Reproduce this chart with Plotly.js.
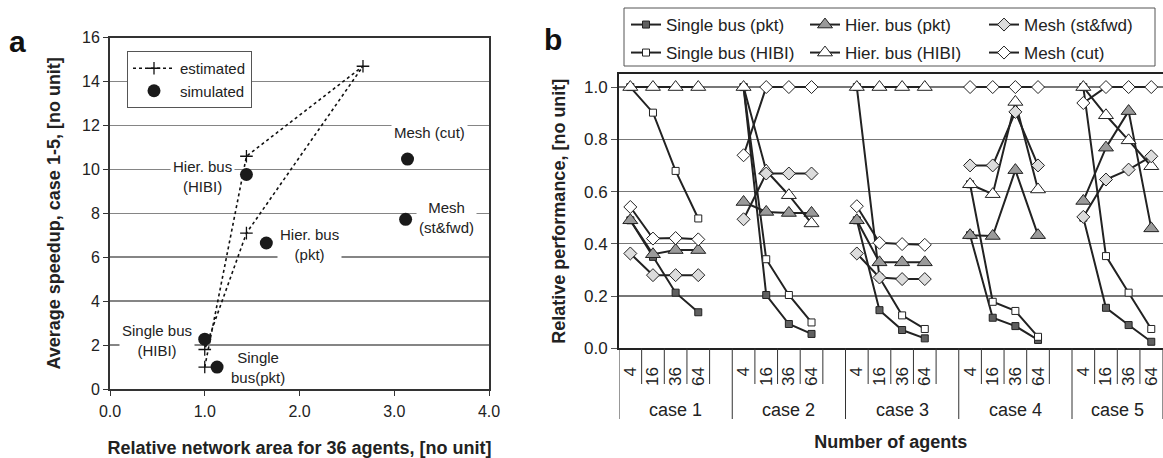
<!DOCTYPE html>
<html><head><meta charset="utf-8">
<script src="https://cdn.plot.ly/plotly-3.0.1.min.js"></script>
<style>html,body{margin:0;padding:0;background:#fff}#chart{width:1163px;height:458px}</style>
</head><body><div id="chart"></div>
<script>
// ---------- Panel a data ----------
const estX = [1.0, 1.44, 2.67, 1.44, 1.0];
const estY = [1.0, 10.6, 14.7, 7.1, 1.8];
const simLabels = ['Single<br>bus(pkt)', 'Single bus<br>(HIBI)', 'Hier. bus<br>(pkt)', 'Hier. bus<br>(HIBI)', 'Mesh (cut)', 'Mesh<br>(st&fwd)'];
const simX = [1.13, 1.0, 1.65, 1.44, 3.14, 3.12];
const simY = [1.0, 2.27, 6.65, 9.77, 10.47, 7.73];
const aXTickVals = [0, 1, 2, 3, 4];
const aXTickText = ['0.0', '1.0', '2.0', '3.0', '4.0'];

// ---------- Panel b data ----------
const cases = ['case 1', 'case 2', 'case 3', 'case 4', 'case 5'];
const agents = ['4', '16', '36', '64'];
const singlePkt  = [0.49,0.35,0.213,0.138, 1.0,0.204,0.093,0.055, 0.49,0.146,0.070,0.038, 0.433,0.117,0.085,0.032, 0.50,0.155,0.089,0.025];
const singleHibi = [1.0,0.902,0.679,0.497, 1.0,0.341,0.204,0.099, 1.0,0.271,0.126,0.074, 0.628,0.178,0.143,0.044, 1.0,0.353,0.213,0.074];
const hierPkt    = [0.49,0.36,0.376,0.376, 0.56,0.522,0.518,0.518, 0.49,0.329,0.329,0.329, 0.433,0.43,0.682,0.433, 0.564,0.768,0.908,0.459];
const hierHibi   = [1,1,1,1, 1,0.68,0.586,0.478, 1,1,1,1, 0.628,0.59,0.943,0.608, 1,0.892,0.796,0.697];
const meshSf     = [0.363,0.28,0.28,0.28, 0.494,0.669,0.669,0.669, 0.363,0.271,0.265,0.265, 0.70,0.70,0.905,0.70, 0.503,0.646,0.684,0.735];
const meshCut    = [0.541,0.42,0.422,0.417, 0.739,1,1,1, 0.544,0.404,0.399,0.396, 1,1,1,1, 0.939,1,1,1];
const bYTickVals = [0, 0.2, 0.4, 0.6, 0.8, 1.0];
const bYTickText = ['0.0', '0.2', '0.4', '0.6', '0.8', '1.0'];

const SLOT = agents.length + 1; // 4 agents + spacer per case

function seriesXY(vals) {
  const x = [], y = [];
  cases.forEach((c, ci) => {
    agents.forEach((a, ai) => { x.push(ci * SLOT + ai); y.push(vals[ci * agents.length + ai]); });
    if (ci < cases.length - 1) { x.push(ci * SLOT + agents.length); y.push(null); }
  });
  return {x, y};
}

const FONT = 'Liberation Sans, Arial, sans-serif';
const LINEC = '#222';

const bSeries = [
  {name: 'Single bus (pkt)',  vals: singlePkt,  symbol: 'square',      size: 7,  fill: '#606060', legend: 'legend2'},
  {name: 'Single bus (HIBI)', vals: singleHibi, symbol: 'square',      size: 7,  fill: '#ffffff', legend: 'legend3'},
  {name: 'Hier. bus (pkt)',   vals: hierPkt,    symbol: 'triangle-up', size: 13, fill: '#9a9a9a', legend: 'legend2'},
  {name: 'Hier. bus (HIBI)',  vals: hierHibi,   symbol: 'triangle-up', size: 13, fill: '#ffffff', legend: 'legend3'},
  {name: 'Mesh (st&fwd)',     vals: meshSf,     symbol: 'diamond',     size: 10, fill: '#dcdcdc', legend: 'legend2'},
  {name: 'Mesh (cut)',        vals: meshCut,    symbol: 'diamond',     size: 10, fill: '#ffffff', legend: 'legend3'}
];

const traces = [];
traces.push({
  type: 'scatter', mode: 'lines+markers', name: 'estimated', x: estX, y: estY,
  xaxis: 'x', yaxis: 'y', legend: 'legend', legendgroup: 'e',
  line: {color: '#111', width: 1.6, dash: 'dot'},
  marker: {symbol: 'cross-thin', size: 9, line: {color: '#111', width: 1.3}}
});
traces.push({
  type: 'scatter', mode: 'markers', name: 'simulated', x: simX, y: simY,
  xaxis: 'x', yaxis: 'y', legend: 'legend', legendgroup: 's',
  marker: {symbol: 'circle', size: 13, color: '#1a1a1a'}
});
bSeries.forEach(s => {
  const d = seriesXY(s.vals);
  traces.push({
    type: 'scatter', mode: 'lines+markers', name: s.name, x: d.x, y: d.y,
    xaxis: 'x2', yaxis: 'y2', legend: s.legend, connectgaps: false,
    line: {color: LINEC, width: 2},
    marker: {symbol: s.symbol, size: s.size, color: s.fill, line: {color: LINEC, width: 1}}
  });
});

// tick positions for panel b
const bTickVals = [], bTickText = [];
cases.forEach((c, ci) => agents.forEach((a, ai) => { bTickVals.push(ci * SLOT + ai); bTickText.push(a); }));
const nSlots = cases.length * SLOT - 1;

const H = 458, W = 1163;
const py = p => 1 - p / H;
const px = p => p / W;

const shapes = [];
for (let k = 0; k <= nSlots; k++) {
  const long = (k % SLOT === 0) || k === nSlots;
  shapes.push({type: 'line', xref: 'x2', yref: 'paper', x0: k - 0.5, x1: k - 0.5,
    y0: py(348.3), y1: py(long ? 419 : 384), line: {color: '#333', width: 1}});
}
// legend frame for panel b
shapes.push({type: 'rect', xref: 'paper', yref: 'paper', x0: px(624), x1: px(1155), y0: py(66), y1: py(8),
  line: {color: '#555', width: 1}, fillcolor: 'rgba(0,0,0,0)'});

const annotations = [];
// panel letters
annotations.push({text: 'a', xref: 'paper', yref: 'paper', x: px(17), y: py(41), xanchor: 'center', yanchor: 'middle',
  showarrow: false, font: {family: FONT, size: 30, color: '#111', weight: 'bold'}});
annotations.push({text: 'b', xref: 'paper', yref: 'paper', x: px(553), y: py(40), xanchor: 'center', yanchor: 'middle',
  showarrow: false, font: {family: FONT, size: 30, color: '#111', weight: 'bold'}});
// panel a point labels
const labelPos = [[1.564, 0.97], [0.493, 2.20], [2.102, 6.58], [0.981, 9.67], [3.376, 11.70], [3.552, 7.80]];
simLabels.forEach((t, i) => {
  annotations.push({text: t, xref: 'x', yref: 'y', x: labelPos[i][0], y: labelPos[i][1], showarrow: false,
    xanchor: 'center', yanchor: 'middle',
    bgcolor: '#fff', borderpad: 2, font: {family: FONT, size: 15, color: '#222'}});
});
// case labels
cases.forEach((c, ci) => {
  const start = ci * SLOT - 0.5;
  const end = Math.min((ci + 1) * SLOT - 0.5, nSlots - 0.5);
  annotations.push({text: c, xref: 'x2', yref: 'paper', x: (start + end) / 2, y: py(410),
    xanchor: 'center', yanchor: 'middle', showarrow: false,
    font: {family: FONT, size: 18, color: '#222'}});
});

const layout = {
  width: W, height: H, margin: {l: 0, r: 0, t: 0, b: 0},
  paper_bgcolor: '#fff', plot_bgcolor: '#fff',
  font: {family: FONT, color: '#222'},
  showlegend: true,
  xaxis: {
    domain: [px(110), px(489)], range: [0, 4], anchor: 'y',
    tickvals: aXTickVals, ticktext: aXTickText, ticks: 'outside', ticklen: 5, tickcolor: '#333',
    ticklabelstandoff: 2,
    showgrid: false, zeroline: false, showline: true, linecolor: '#333', linewidth: 2, mirror: true,
    tickfont: {family: FONT, size: 16, color: '#222'},
    title: {text: 'Relative network area for 36 agents, [no unit]', standoff: 22,
      font: {family: FONT, size: 18, color: '#222', weight: 'bold'}}
  },
  yaxis: {
    domain: [py(389), py(37.7)], range: [0, 16], anchor: 'x', dtick: 2,
    ticks: 'outside', ticklen: 5, tickcolor: '#333',
    showgrid: true, gridcolor: '#858585', gridwidth: 1.6, zeroline: false,
    showline: true, linecolor: '#333', linewidth: 2, mirror: true,
    tickfont: {family: FONT, size: 16, color: '#222'},
    title: {text: 'Average speedup, case 1-5, [no unit]', standoff: 17,
      font: {family: FONT, size: 18, color: '#222', weight: 'bold'}}
  },
  xaxis2: {
    domain: [px(619), px(1162.6)], range: [-0.5, nSlots - 0.5], anchor: 'y2',
    tickvals: bTickVals, ticktext: bTickText, tickangle: -90, ticks: '', ticklabelstandoff: 10,
    showgrid: false, zeroline: false, showline: true, linecolor: '#222', linewidth: 2, mirror: true,
    tickfont: {family: FONT, size: 17, color: '#222'},
    title: {text: 'Number of agents', standoff: 50,
      font: {family: FONT, size: 18, color: '#222', weight: 'bold'}}
  },
  yaxis2: {
    domain: [py(348.3), py(74)], range: [0, 1.05], anchor: 'x2',
    tickvals: bYTickVals, ticktext: bYTickText, ticks: 'outside', ticklen: 6, tickcolor: '#555',
    showgrid: true, gridcolor: '#777', gridwidth: 1.3, zeroline: false,
    showline: true, linecolor: '#222', linewidth: 2, mirror: true,
    tickfont: {family: FONT, size: 17, color: '#222'},
    title: {text: 'Relative performance, [no unit]', standoff: 14,
      font: {family: FONT, size: 18, color: '#222', weight: 'bold'}}
  },
  legend: {
    x: px(127), y: py(51), xanchor: 'left', yanchor: 'top', orientation: 'v',
    bgcolor: '#fff', bordercolor: '#555', borderwidth: 1, tracegroupgap: 0, itemwidth: 42,
    font: {family: FONT, size: 15, color: '#222'}
  },
  legend2: {
    x: px(626), y: py(25), xanchor: 'left', yanchor: 'middle', orientation: 'h',
    bgcolor: 'rgba(0,0,0,0)', borderwidth: 0, entrywidth: 134, entrywidthmode: 'pixels',
    font: {family: FONT, size: 17, color: '#222'}
  },
  legend3: {
    x: px(626), y: py(53), xanchor: 'left', yanchor: 'middle', orientation: 'h',
    bgcolor: 'rgba(0,0,0,0)', borderwidth: 0, entrywidth: 134, entrywidthmode: 'pixels',
    font: {family: FONT, size: 17, color: '#222'}
  },
  shapes: shapes,
  annotations: annotations
};

Plotly.newPlot('chart', traces, layout, {staticPlot: true, displayModeBar: false});
</script>
</body></html>
